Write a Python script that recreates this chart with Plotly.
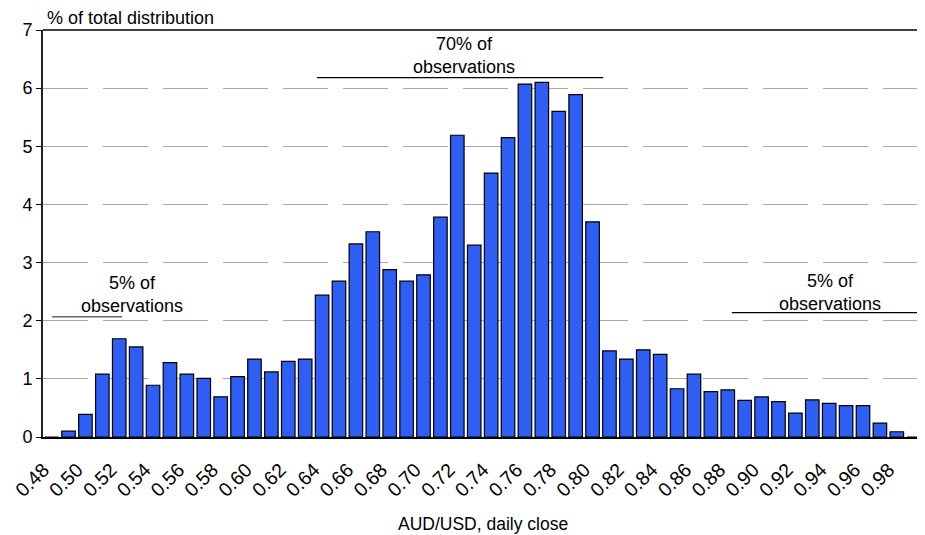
import plotly.graph_objects as go

# AUD/USD daily close buckets (0.48 .. 0.99)
bins = [round(0.48 + 0.01 * i, 2) for i in range(52)]
share = [0.0, 0.1, 0.39, 1.08, 1.69, 1.55, 0.89, 1.28, 1.08, 1.01,
         0.69, 1.04, 1.34, 1.12, 1.30, 1.34, 2.44, 2.68, 3.32, 3.53,
         2.88, 2.68, 2.79, 3.78, 5.19, 3.30, 4.54, 5.15, 6.07, 6.10,
         5.60, 5.89, 3.70, 1.48, 1.34, 1.50, 1.42, 0.83, 1.08, 0.78,
         0.81, 0.63, 0.69, 0.61, 0.41, 0.64, 0.58, 0.54, 0.54, 0.24,
         0.09, 0.0]
tick_vals = [round(0.48 + 0.02 * i, 2) for i in range(26)]
tick_text = [f"{v:.2f}" for v in tick_vals]

FONT = "Liberation Sans, Arial, sans-serif"
LABEL_SHIFT = 0.0048  # rotated labels sit slightly left of category centre

fig = go.Figure()
fig.add_trace(go.Bar(
    x=bins, y=share,
    marker=dict(color="#2f5ef5", line=dict(color="#000000", width=1.2)),
))

# page body has an 8px margin, so the figure is sized/offset to compensate
fig.update_layout(
    width=917, height=527,
    margin=dict(l=35, r=3, t=22, b=98),
    plot_bgcolor="white", paper_bgcolor="white",
    bargap=0.2, showlegend=False,
    font=dict(family=FONT, size=16, color="#000000"),
)
fig.update_xaxes(
    range=[0.4749, 0.9949],
    tickvals=[v - LABEL_SHIFT for v in tick_vals], ticktext=tick_text,
    tickangle=-45, showgrid=False, zeroline=False,
    showline=True, linecolor="#000000", linewidth=1.5,
    ticks="", tickfont=dict(size=19.5, family=FONT),
    ticklabelstandoff=12, automargin=False,
)
fig.update_yaxes(
    range=[0, 7], dtick=1, showgrid=True, gridcolor="#a8a8a8",
    griddash="45px,15px", gridwidth=1, zeroline=False,
    showline=True, linecolor="#222222", linewidth=2,
    ticks="outside", ticklen=5, tickcolor="#000000",
    tickfont=dict(size=18, family=FONT), automargin=False,
)

# plot frame: top black, right gray
fig.add_shape(type="line", xref="paper", yref="paper", x0=0, x1=1, y0=1, y1=1,
              line=dict(color="#000000", width=1.5))
fig.add_shape(type="line", xref="paper", yref="paper", x0=1, x1=1, y0=0, y1=1,
              line=dict(color="#888888", width=1.5))

# bracket lines
fig.add_shape(type="line", x0=0.637, x1=0.8063, y0=6.18, y1=6.18,
              line=dict(color="#000000", width=1.2))
fig.add_shape(type="line", x0=0.4803, x1=0.5217, y0=2.07, y1=2.07,
              line=dict(color="#666666", width=1.5))
fig.add_shape(type="line", x0=0.8824, x1=0.9932, y0=2.14, y1=2.14,
              line=dict(color="#000000", width=1.2))

ann_font = dict(family=FONT, size=18, color="#000000")
fig.add_annotation(x=0.7241, y=6.57, text="70% of<br>observations", showarrow=False,
                   font=ann_font, xanchor="center", yanchor="middle")
fig.add_annotation(x=0.5277, y=2.45, text="5% of<br>observations", showarrow=False,
                   font=ann_font, xanchor="center", yanchor="middle")
fig.add_annotation(x=0.9406, y=2.49, text="5% of<br>observations", showarrow=False,
                   font=ann_font, xanchor="center", yanchor="middle")

fig.add_annotation(xref="paper", yref="paper", x=0.002, y=1.0295,
                   text="% of total distribution", showarrow=False,
                   font=dict(family=FONT, size=18, color="#000000"),
                   xanchor="left", yanchor="middle")
fig.add_annotation(xref="paper", yref="paper", x=0.5, y=-0.2138,
                   text="AUD/USD, daily close", showarrow=False,
                   font=dict(family=FONT, size=17.5, color="#000000"),
                   xanchor="center", yanchor="middle")

fig.write_html("out.html")
